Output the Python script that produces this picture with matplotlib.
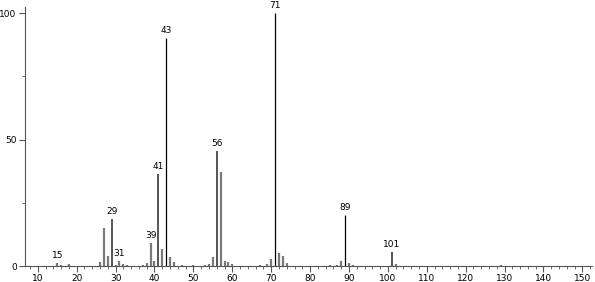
import matplotlib
matplotlib.use("Agg")
import matplotlib.pyplot as plt
from matplotlib.ticker import MultipleLocator

# m/z and relative intensity
mz_minor = [15, 16, 18, 26, 27, 28, 30, 31, 32, 33, 37, 38, 39, 40, 42, 44, 45, 47,
            50, 53, 54, 55, 57, 58, 59, 60, 67, 69, 70, 72, 73, 74, 85, 87, 88, 90, 91, 102, 129]
int_minor = [1.3, 0.4, 0.8, 1.6, 15.1, 4.0, 0.5, 2.1, 0.6, 0.4, 0.3, 1.0, 9.2, 2.0, 6.7, 3.4, 1.5, 0.3,
             0.4, 0.5, 0.6, 3.5, 37.3, 2.0, 1.5, 0.6, 0.3, 0.6, 2.9, 5.0, 4.0, 1.0, 0.3, 0.5, 2.0, 1.0, 0.5, 0.6, 0.3]
mz_major = [43, 71, 89]
int_major = [90.0, 100.0, 20.2]
mz_mid = [29, 41, 56, 101]
int_mid = [18.5, 36.4, 45.6, 5.4]
labels_mz = [15, 29, 31, 39, 41, 43, 56, 71, 89, 101]

fig = plt.figure(figsize=(5.95, 2.82), dpi=100)
ax = fig.add_axes([0.042, 0.0567, 0.953, 0.918])

ax.vlines(mz_minor, 0, int_minor, colors="#7a7a7a", linewidth=1.6)
ax.vlines(mz_mid, 0, int_mid, colors="#555555", linewidth=1.4)
ax.vlines(mz_major, 0, int_major, colors="black", linewidth=0.9)

all_mz = mz_minor + mz_major + mz_mid
all_int = int_minor + int_major + int_mid
for m in labels_mz:
    h = all_int[all_mz.index(m)]
    ax.text(m, h + 1.2, str(m), ha="center", va="bottom", fontsize=6.5,
            color="black", clip_on=False)

ax.set_xlim(6.7, 152.5)
ax.set_ylim(0, 102.4)
ax.spines["top"].set_visible(False)
ax.spines["right"].set_visible(False)
ax.spines["left"].set_color("#555555")
ax.spines["bottom"].set_color("#555555")
ax.xaxis.set_major_locator(MultipleLocator(10))
ax.xaxis.set_minor_locator(MultipleLocator(2))
ax.yaxis.set_major_locator(MultipleLocator(50))
ax.yaxis.set_minor_locator(MultipleLocator(25))
ax.tick_params(axis="both", which="major", length=4, width=0.8, labelsize=6.5, pad=2, color="#555555")
ax.tick_params(axis="both", which="minor", length=2, width=0.6, color="#555555")
ax.set_xticks(range(10, 151, 10))
ax.set_yticks([0, 50, 100])

fig.savefig("out.png", dpi=100)
